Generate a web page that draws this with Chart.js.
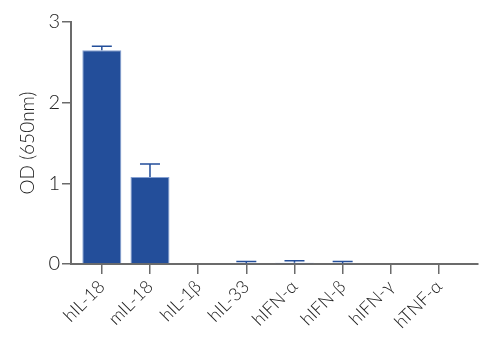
<!DOCTYPE html>
<html>
<head>
<meta charset="utf-8">
<script src="https://cdn.jsdelivr.net/npm/chart.js@4"></script>
<style>
  html, body { margin: 0; padding: 0; background: #fff; }
  #wrap { width: 500px; height: 354px; }
</style>
</head>
<body>
<div id="wrap"><canvas id="chart"></canvas></div>
<script>
// Cytokine specificity - OD readout per cytokine
const categories = ['hIL-18', 'mIL-18', 'hIL-1\u03b2', 'hIL-33', 'hIFN-\u03b1', 'hIFN-\u03b2', 'hIFN-\u03b3', 'hTNF-\u03b1'];
const odValues = [2.65, 1.08, 0, 0.01, 0.015, 0.01, 0, 0];
const odErrors = [0.05, 0.16, 0, 0.02, 0.025, 0.02, 0, 0];
const yTicks = [0, 1, 2, 3];

const barBlue = '#234e9a';
const axisGrey = '#6b6b6b';
const fontFamily = 'Lato, "Open Sans", sans-serif';

// Draws the upper error whisker + cap on each bar
const errorBars = {
  id: 'errorBars',
  afterDatasetsDraw(chart) {
    const meta = chart.getDatasetMeta(0);
    const yScale = chart.scales.y;
    const c = chart.ctx;
    c.save();
    c.strokeStyle = barBlue;
    c.lineWidth = 1.5;
    meta.data.forEach((bar, i) => {
      if (!odErrors[i]) return;
      const yBase = yScale.getPixelForValue(odValues[i]);
      const yTop = yScale.getPixelForValue(odValues[i] + odErrors[i]);
      c.beginPath();
      c.moveTo(bar.x, yBase);
      c.lineTo(bar.x, yTop);
      c.moveTo(bar.x - 10, yTop);
      c.lineTo(bar.x + 10, yTop);
      c.stroke();
    });
    c.restore();
  }
};

new Chart(document.getElementById('chart'), {
  type: 'bar',
  data: {
    datasets: [{
      data: odValues.map((v, i) => ({ x: i, y: v })),
      backgroundColor: barBlue,
      borderColor: 'rgba(120, 150, 205, 0.9)',
      borderWidth: 1,
      categoryPercentage: 1,
      barPercentage: 0.81
    }]
  },
  options: {
    responsive: true,
    maintainAspectRatio: false,
    animation: false,
    layout: { padding: { left: 0, right: 22, top: 22, bottom: 0 } },
    plugins: {
      legend: { display: false },
      tooltip: { enabled: false }
    },
    scales: {
      x: {
        type: 'linear',
        offset: false,
        min: -0.64,
        max: 7.81,
        afterBuildTicks: (axis) => {
          axis.ticks = categories.map((c, i) => ({ value: i }));
        },
        afterFit: (axis) => { axis.height = 90; },
        grid: { offset: false, drawOnChartArea: false, drawTicks: true, tickLength: 10, color: axisGrey, lineWidth: 1.5 },
        border: { display: true, color: axisGrey, width: 2 },
        ticks: {
          autoSkip: false,
          minRotation: 45,
          maxRotation: 45,
          padding: 2,
          color: '#222',
          font: { family: fontFamily, size: 18, weight: '300' },
          callback: (value) => categories[value]
        }
      },
      y: {
        min: 0,
        max: 3,
        afterBuildTicks: (axis) => {
          axis.ticks = yTicks.map(v => ({ value: v }));
        },
        afterFit: (axis) => { axis.width = 71; },
        grid: { drawOnChartArea: false, drawTicks: true, tickLength: 9, color: axisGrey, lineWidth: 1.5 },
        border: { display: true, color: axisGrey, width: 2 },
        ticks: {
          padding: 2,
          color: '#222',
          font: { family: fontFamily, size: 20, weight: '300' }
        },
        title: {
          display: true,
          text: 'OD (650nm)',
          color: '#222',
          padding: { top: 16, bottom: 0 },
          font: { family: fontFamily, size: 19, weight: '300' }
        }
      }
    }
  },
  plugins: [errorBars]
});
</script>
</body>
</html>
